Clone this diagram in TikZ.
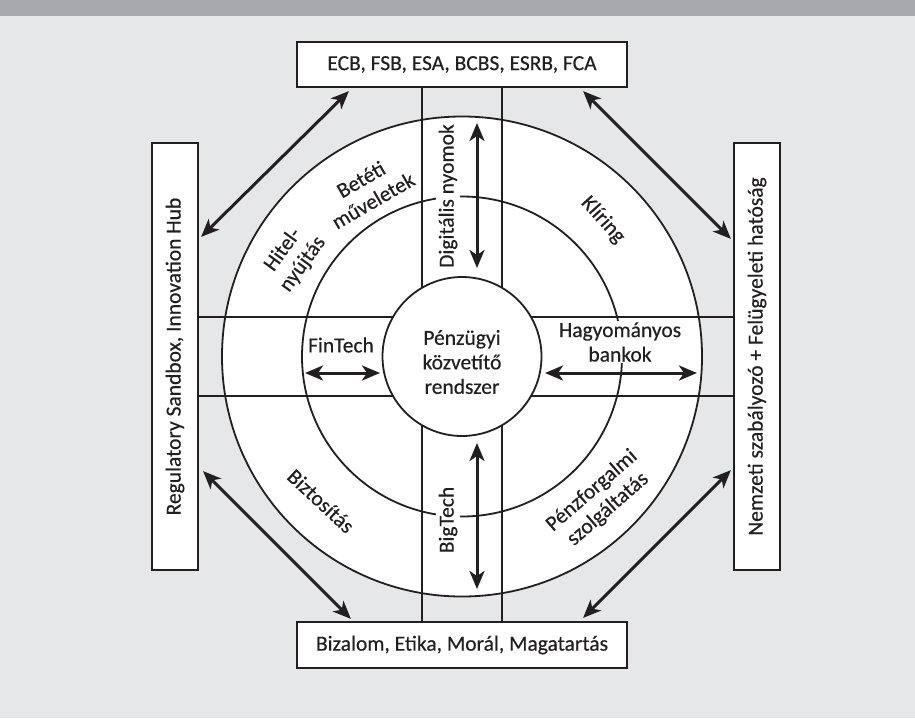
\documentclass[tikz,border=0pt]{standalone}
\usepackage{fontspec}
\setmainfont{Carlito}[UprightFeatures={FakeBold=0.4}]
\usetikzlibrary{arrows.meta,calc}
\definecolor{bg}{HTML}{E6E7E8}
\definecolor{bandc}{HTML}{A7A9AC}
\definecolor{ink}{HTML}{231F20}
\begin{document}
\begin{tikzpicture}[x=1pt,y=-1pt,
  font=\fontsize{21.5}{24.5}\selectfont,
  box/.style={draw=ink, line width=2.2pt, fill=white, inner sep=0pt, text=ink},
  ring/.style={draw=ink, line width=1.8pt, circle, inner sep=0pt},
  lbl/.style={text=ink, align=center, inner sep=2pt},
  wlbl/.style={lbl, fill=white, inner sep=3pt},
  bandline/.style={draw=ink, line width=1.8pt},
  arr/.style={draw=ink, line width=3pt,
    {Stealth[length=18pt,width=15pt,inset=5pt]}-{Stealth[length=18pt,width=15pt,inset=5pt]}}
]
\useasboundingbox (0,0) rectangle (915,718);
\fill[bg] (0,0) rectangle (915,718);
\fill[bandc] (0,0) rectangle (915,16);

% boxes (positions)
\node[box, minimum width=330pt, minimum height=45pt] (top) at (462,64.5) {};
\node[box, minimum width=330pt, minimum height=46pt] (bot) at (462,645) {};
\node[box, minimum width=46pt, minimum height=427pt] (left) at (175,356.5) {};
\node[box, minimum width=46pt, minimum height=427pt] (right) at (757,356.5) {};

% rings
\node[ring, fill=white, minimum size=480pt] (outer) at (462,356.5) {};
\node[ring, minimum size=320pt] (inner) at (462,356.5) {};

% band lines
\draw[bandline] ([xshift=-40pt]top.south) -- ([xshift=-40pt]bot.north);
\draw[bandline] ([xshift=40pt]top.south) -- ([xshift=40pt]bot.north);
\draw[bandline] ([yshift=39.5pt]left.east) -- ([yshift=39.5pt]right.west);
\draw[bandline] ([yshift=-39.5pt]left.east) -- ([yshift=-39.5pt]right.west);

% center
\node[ring, fill=white, minimum size=159pt] (core) at (462,356.5) {};
\node[lbl] (coretxt) at (462,362) {Pénzügyi\\közvetítő\\rendszer};

% labels
\node[wlbl, rotate=90] (dig) at (448,196) {Digitális nyomok};
\node[wlbl, rotate=90] (big) at (448,520) {BigTech};
\node[lbl] (fin) at (341,345) {FinTech};
\node[wlbl, inner sep=1pt] (hag) at (620,342) {Hagyományos\\bankok};
\node[lbl, rotate=30] (bet) at (367,190) {Betéti\\műveletek};
\node[lbl, rotate=54] (hit) at (293,257) {Hitel-\\nyújtás};
\node[lbl, rotate=-48] (kli) at (603,220) {Klíring};
\node[lbl, rotate=-43] (biz) at (321,501) {Biztosítás};
\node[lbl, rotate=41] (pen) at (600,500) {Pénzforgalmi\\szolgáltatás};

% box texts
\node[lbl] at (top.center) {ECB, FSB, ESA, BCBS, ESRB, FCA};
\node[lbl] at (bot.center) {Bizalom, Etika, Morál, Magatartás};
\node[lbl, rotate=90] at (left.center) {Regulatory Sandbox, Innovation Hub};
\node[lbl, rotate=90] at (right.center) {Nemzeti szabályozó + Felügyeleti hatóság};

% inner arrows
\coordinate (du1) at (477,123); \coordinate (du2) at (477,268);
\coordinate (dd1) at (477,443); \coordinate (dd2) at (477,589);
\coordinate (hl1) at (305,373); \coordinate (hl2) at (380,373);
\coordinate (hr1) at (545,373); \coordinate (hr2) at (697,373);
\draw[arr] (du1) -- (du2);
\draw[arr] (dd1) -- (dd2);
\draw[arr] (hl1) -- (hl2);
\draw[arr] (hr1) -- (hr2);

% outer arrows between boxes
\draw[arr] ([shift={(2,95)}]left.north east) -- ([shift={(53,3)}]top.south west);
\draw[arr] ([shift={(-45,3)}]top.south east) -- ([shift={(-2,97)}]right.north west);
\draw[arr] ([shift={(4,-100)}]left.south east) -- ([shift={(55,-2)}]bot.north west);
\draw[arr] ([shift={(-2,-101)}]right.south west) -- ([shift={(-45,-3)}]bot.north east);
\end{tikzpicture}
\end{document}
